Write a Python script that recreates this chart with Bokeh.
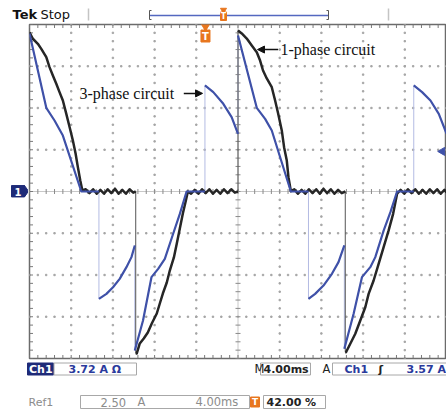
import numpy as np
from bokeh.plotting import figure
from bokeh.layouts import column, row
from bokeh.models import Range1d, Arrow, NormalHead
from bokeh.core.properties import value
from bokeh.embed import file_html
from bokeh.resources import INLINE

# ---------------- data ----------------
CH1_A_PER_DIV = 3.72     # Ch1 scale
REF1_A_PER_DIV = 2.50    # Ref1 scale
MS_PER_DIV = 4.00        # time base
N_XDIV, N_YDIV = 10, 8
TRIGGER_MS = 16.88

# Ch1 : 1-phase circuit current (time ms, current A)
ch1_samples = [
    (0.00, 14.19), (0.32, 13.61), (0.80, 13.16), (1.13, 12.71), (1.61, 11.97), (1.92, 11.08),
    (2.24, 10.34), (2.57, 9.60), (2.88, 8.85), (3.20, 8.11), (3.53, 6.92), (3.85, 5.73),
    (4.16, 4.54), (4.42, 3.39), (4.64, 2.17), (4.87, 0.98), (5.07, 0.09),
    (5.40, 0.20), (5.75, -0.15), (6.10, 0.20), (6.45, -0.20), (6.80, 0.15), (7.15, -0.20),
    (7.50, 0.20), (7.85, -0.15), (8.20, 0.25), (8.55, -0.20), (8.90, 0.15), (9.25, -0.20),
    (9.60, 0.20), (9.95, -0.10), (10.19, 0.00),
    (10.19, -14.43), (10.29, -14.43), (10.58, -13.54), (10.96, -13.10), (11.35, -12.56),
    (11.73, -11.76), (12.21, -10.87), (12.50, -9.98), (12.79, -9.09), (13.17, -8.11),
    (13.46, -7.04), (13.85, -5.88), (14.13, -4.63), (14.42, -3.30), (14.71, -1.96),
    (15.00, -0.80), (15.19, 0.00),
    (15.50, -0.20), (15.85, 0.15), (16.20, -0.20), (16.55, 0.20), (16.90, -0.15), (17.25, 0.20),
    (17.60, -0.20), (17.95, 0.15), (18.30, -0.20), (18.65, 0.20), (19.00, -0.15), (19.35, 0.20),
    (19.70, -0.10), (20.00, 0.00),
    (20.00, 14.35), (20.36, 14.08), (20.84, 13.63), (21.32, 13.01), (21.80, 12.41), (22.12, 11.67),
    (22.40, 10.78), (22.76, 10.07), (23.24, 9.29), (23.56, 8.11), (23.85, 6.95), (24.20, 5.44),
    (24.42, 3.95), (24.68, 2.76), (24.84, 1.27), (25.07, 0.03),
    (25.40, 0.20), (25.75, -0.20), (26.10, 0.15), (26.45, -0.20), (26.80, 0.20), (27.15, -0.15),
    (27.50, 0.20), (27.85, -0.20), (28.20, 0.25), (28.55, -0.15), (28.90, 0.20), (29.25, -0.20),
    (29.60, 0.15), (29.95, -0.15), (30.29, 0.00),
    (30.29, -14.32), (30.36, -14.32), (30.77, -13.57), (31.25, -12.68), (31.73, -11.49),
    (32.21, -10.31), (32.53, -9.12), (33.01, -7.93), (33.49, -6.44), (33.97, -4.96),
    (34.45, -3.47), (34.88, -1.99), (35.26, -0.20),
    (35.60, 0.15), (35.95, -0.20), (36.30, 0.20), (36.65, -0.15), (37.00, 0.20), (37.35, -0.20),
    (37.70, 0.15), (38.05, -0.20), (38.40, 0.20), (38.75, -0.15), (39.10, 0.20), (39.45, -0.20),
    (39.80, 0.15), (40.00, -0.10),
]

# Ref1 : 3-phase circuit current (time ms, current A)
ref1_samples = [
    (0.00, 9.46), (1.61, 5.01), (2.40, 4.25), (3.20, 3.35), (4.97, 0.00), (6.66, 0.00),
    (6.66, -6.43), (7.38, -6.13), (8.01, -5.73), (8.65, -5.23), (9.30, -4.53), (9.78, -3.93), (10.10, -3.23),
    (10.10, -9.52), (10.89, -7.72), (11.70, -5.13), (12.34, -4.63), (12.98, -4.03), (13.78, -2.53),
    (14.42, -1.34), (15.07, 0.00), (16.83, 0.00),
    (16.83, 6.35), (17.63, 5.95), (18.59, 5.25), (19.39, 4.45), (20.00, 3.45),
    (20.00, 9.34), (21.80, 5.01), (22.60, 4.35), (23.24, 3.65), (25.07, 0.00), (26.76, 0.00),
    (26.76, -6.43), (27.40, -6.13), (28.20, -5.63), (29.01, -4.93), (29.64, -4.23), (30.20, -3.23),
    (30.20, -9.42), (31.09, -7.32), (31.89, -5.13), (32.69, -4.53), (33.17, -3.93), (33.97, -2.34),
    (34.62, -1.24), (35.26, 0.00), (36.86, 0.00),
    (36.86, 6.35), (37.66, 5.95), (38.46, 5.45), (39.26, 4.65), (40.00, 3.47),
]

# ---------------- styles ----------------
BLUE = "#3f51a8"
BLUE_THIN = "#b3bbe3"
BLACK = "#262626"
BLACK_THIN = "#555555"
NAVY = "#1e2a78"
NAVY_TXT = "#2a3a9c"
ORANGE = "#e8761e"
GRIDC = "#a6a6a6"
UI_FONT = value("DejaVu Sans")

T_MAX = N_XDIV * MS_PER_DIV
FRAME_W, FRAME_H = 417, 334
PX_PER_MS = FRAME_W / T_MAX
PX_PER_DIV = FRAME_H / N_YDIV


def split_steps(samples, scale):
    """Split a trace into continuous pieces at vertical steps (equal times)."""
    pieces, cur = [], [samples[0]]
    for prev, s in zip(samples, samples[1:]):
        if s[0] == prev[0]:
            pieces.append(cur)
            cur = [s]
        else:
            cur.append(s)
    pieces.append(cur)
    xs = [[t for t, _ in pc] for pc in pieces]
    ys = [[a / scale for _, a in pc] for pc in pieces]
    return xs, ys


def bare(fig):
    fig.min_border = 0
    fig.outline_line_color = None
    fig.background_fill_color = "white"
    fig.border_fill_color = "white"
    return fig

# ---------------- header (page px 0..446 x 0..23) ----------------
h = bare(figure(width=446, height=23, x_range=Range1d(0, 446), y_range=Range1d(23, 0),
                output_backend="svg", toolbar_location=None, x_axis_type=None,
                y_axis_type=None, title=None))
h.text(x=[12], y=[13.5], text=["Tek"], text_font=UI_FONT, text_font_style="bold",
       text_font_size="13px", text_baseline="middle", text_color="#111111")
h.text(x=[40], y=[13.5], text=["Stop"], text_font=UI_FONT, text_font_size="13px",
       text_baseline="middle", text_color="#111111")
h.segment(x0=[88, 388], y0=[8, 8], x1=[88, 388], y1=[20, 20], line_color="#c4c4c4", line_width=1.5)
h.line([149, 328], [15, 15], line_color="#5468c0", line_width=1.5)
h.multi_line([[151, 149, 149, 151], [326, 328, 328, 326]], [[10, 10, 19, 19], [10, 10, 19, 19]],
             line_color="#555555", line_width=1)
h.scatter(x=[223], y=[9.5], marker="inverted_triangle", size=6, color=ORANGE)
h.quad(left=[220], right=[226], top=[11.5], bottom=[20], fill_color=ORANGE, line_color=ORANGE)
h.text(x=[223], y=[16], text=["T"], text_font=UI_FONT, text_font_style="bold", text_font_size="8px",
       text_color="white", text_align="center", text_baseline="middle")

# ---------------- left marker (page px 0..28 x 23..360) ----------------
lf = bare(figure(width=28, height=337, x_range=Range1d(0, 28), y_range=Range1d(360, 23),
                 output_backend="svg", toolbar_location=None, x_axis_type=None,
                 y_axis_type=None, title=None))
lf.quad(left=[11], right=[24], top=[185.5], bottom=[197], fill_color=NAVY, line_color=NAVY)
lf.patch([24, 28, 24], [185.5, 191.2, 197], fill_color=NAVY, line_color=NAVY)
lf.text(x=[17.5], y=[191.5], text=["1"], text_font=UI_FONT, text_font_style="bold",
        text_font_size="10px", text_color="white", text_align="center", text_baseline="middle")

# ---------------- scope screen ----------------
p = figure(width=418, height=337, x_range=Range1d(0, T_MAX),
           y_range=Range1d(-N_YDIV / 2, N_YDIV / 2), output_backend="svg",
           toolbar_location=None, x_axis_type=None, y_axis_type=None, title=None,
           min_border_left=1, min_border_right=0, min_border_top=1, min_border_bottom=2)
p.outline_line_color = "#6b6b6b"
p.outline_line_width = 1.5
p.background_fill_color = "white"
p.border_fill_color = "white"

minor_t = np.arange(0, T_MAX + 1e-9, MS_PER_DIV / 5)
minor_y = np.arange(-N_YDIV / 2, N_YDIV / 2 + 1e-9, 0.2)
major_t = [k * MS_PER_DIV for k in range(1, N_XDIV) if k != N_XDIV // 2]
major_y = [k for k in range(-N_YDIV // 2 + 1, N_YDIV // 2) if k != 0]

gx, gy = [], []
for yy in major_y:
    gx += list(minor_t); gy += [yy] * len(minor_t)
for tt in major_t:
    gx += [tt] * len(minor_y); gy += list(minor_y)
p.scatter(gx, gy, marker="square", size=1.4, color=GRIDC)

# centre cross-hair with ticks
t_c = T_MAX / 2
p.line([0, T_MAX], [0, 0], line_color="#c8c8c8", line_width=1)
p.line([t_c, t_c], [-N_YDIV / 2, N_YDIV / 2], line_color="#c8c8c8", line_width=1)
dy = 2.5 / PX_PER_DIV
dx = 2.5 / PX_PER_MS
p.segment(x0=minor_t, y0=-dy, x1=minor_t, y1=dy, line_color="#8a8a8a", line_width=1)
p.segment(x0=t_c - dx, y0=minor_y, x1=t_c + dx, y1=minor_y, line_color="#8a8a8a", line_width=1)
# ruler ticks on the edges
e_y = 3.5 / PX_PER_DIV
e_x = 3.5 / PX_PER_MS
p.segment(x0=minor_t, y0=N_YDIV / 2, x1=minor_t, y1=N_YDIV / 2 - e_y, line_color="#7a7a7a")
p.segment(x0=minor_t, y0=-N_YDIV / 2, x1=minor_t, y1=-N_YDIV / 2 + e_y, line_color="#7a7a7a")
p.segment(x0=0, y0=minor_y, x1=e_x, y1=minor_y, line_color="#7a7a7a")

# traces
ref_all_t = [t for t, _ in ref1_samples]
ref_all_y = [a / REF1_A_PER_DIV for _, a in ref1_samples]
ch_all_t = [t for t, _ in ch1_samples]
ch_all_y = [a / CH1_A_PER_DIV for _, a in ch1_samples]

p.line(ref_all_t, ref_all_y, line_color=BLUE_THIN, line_width=1)
p.line(ch_all_t, ch_all_y, line_color=BLACK_THIN, line_width=1)
cx, cy = split_steps(ch1_samples, CH1_A_PER_DIV)
p.multi_line(cx, cy, line_color=BLACK, line_width=2.5, line_join="round")
rx, ry = split_steps(ref1_samples, REF1_A_PER_DIV)
p.multi_line(rx, ry, line_color=BLUE, line_width=2.2, line_join="round")

# trigger marker
trig_y_top = N_YDIV / 2
p.scatter(x=[TRIGGER_MS], y=[trig_y_top - 1.5 / PX_PER_DIV], marker="inverted_triangle",
          size=9, color=ORANGE)
p.rect(x=[TRIGGER_MS], y=[trig_y_top - 11.5 / PX_PER_DIV], width=9 / PX_PER_MS,
       height=12 / PX_PER_DIV, fill_color=ORANGE, line_color=ORANGE)
p.text(x=[TRIGGER_MS], y=[trig_y_top - 11.5 / PX_PER_DIV], text=["T"], text_font=UI_FONT,
       text_font_style="bold", text_font_size="10px", text_color="white",
       text_align="center", text_baseline="middle")

# reference position marker at right edge
p.scatter(x=[39.6], y=[0.96], marker="triangle", angle=np.pi / 2, size=8, color=BLUE)

# annotations
p.text(x=[24.08], y=[3.40], text=["1-phase circuit"], text_font=value("Liberation Serif"),
       text_font_size="16px", text_color="#111111", text_baseline="middle")
p.add_layout(Arrow(end=NormalHead(size=7, fill_color="#111111", line_color="#111111"),
                   x_start=23.85, y_start=3.40, x_end=21.87, y_end=3.40,
                   line_color="#111111", line_width=1.5))
p.text(x=[4.80], y=[2.35], text=["3-phase circuit"], text_font=value("Liberation Serif"),
       text_font_size="16px", text_color="#111111", text_baseline="middle")
p.add_layout(Arrow(end=NormalHead(size=7, fill_color="#111111", line_color="#111111"),
                   x_start=14.80, y_start=2.35, x_end=16.60, y_end=2.35,
                   line_color="#111111", line_width=1.5))

# ---------------- footer (page px 0..446 x 360..409) ----------------
f = bare(figure(width=446, height=49, x_range=Range1d(0, 446), y_range=Range1d(409, 360),
                output_backend="svg", toolbar_location=None, x_axis_type=None,
                y_axis_type=None, title=None))
f.quad(left=[27], right=[53], top=[362.5], bottom=[374.5], fill_color=NAVY, line_color=NAVY)
f.quad(left=[53.5, 260, 332, 80, 263], right=[136, 310, 452, 249, 325],
       top=[362.5, 362.5, 362.5, 395, 395], bottom=[374.5, 374.5, 374.5, 408, 408],
       fill_color="white", line_color="#a8a8a8", line_width=1)
f.quad(left=[250], right=[259], top=[396.5], bottom=[406.5], fill_color=ORANGE, line_color=ORANGE)

footer_texts = [
    ("Ch1", 28.5, 368.8, "white", "bold", "11px", "left"),
    ("3.72 A \u03a9", 68, 368.8, NAVY_TXT, "bold", "11px", "left"),
    ("M", 254, 368.8, "#222222", "normal", "11.5px", "left"),
    ("4.00ms", 263, 368.8, "#222222", "bold", "11px", "left"),
    ("A", 322, 368.8, "#222222", "normal", "11.5px", "left"),
    ("Ch1", 344, 368.8, NAVY_TXT, "bold", "11px", "left"),
    ("\u0283", 378, 368.8, "#222222", "bold", "11px", "left"),
    ("3.57 A", 406, 368.8, NAVY_TXT, "bold", "11px", "left"),
    ("Ref1", 28, 401.8, "#8c8c8c", "normal", "11px", "left"),
    ("2.50", 100, 401.8, "#8c8c8c", "normal", "11.5px", "left"),
    ("A", 137, 401.8, "#8c8c8c", "normal", "11.5px", "left"),
    ("4.00ms", 195, 401.8, "#8c8c8c", "normal", "11.5px", "left"),
    ("T", 254.5, 401.8, "white", "bold", "9px", "center"),
    ("42.00 %", 266, 401.8, "#222222", "bold", "11px", "left"),
]
for txt, x, y, col, style, size, align in footer_texts:
    f.text(x=[x], y=[y], text=[txt], text_font=UI_FONT, text_font_style=style,
           text_font_size=size, text_color=col, text_align=align, text_baseline="middle")

layout = column(h, row(lf, p), f)
open("out.html", "w").write(file_html(layout, INLINE))
